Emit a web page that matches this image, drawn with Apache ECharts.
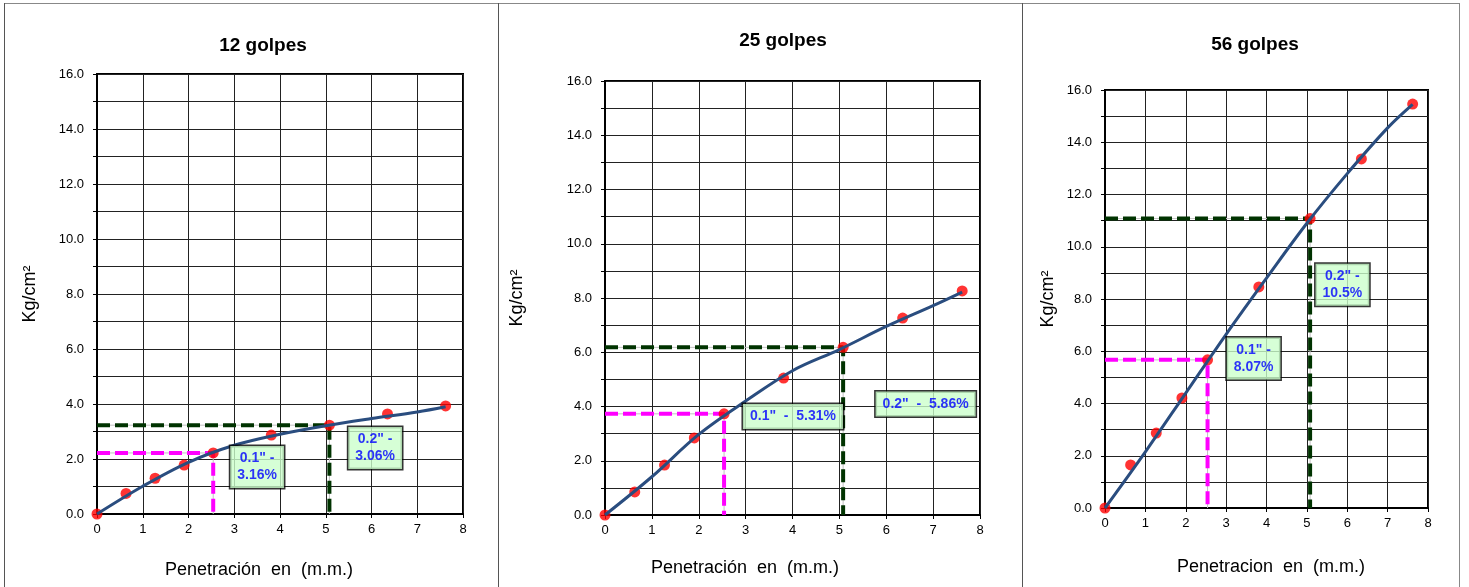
<!DOCTYPE html>
<html><head><meta charset="utf-8">
<script src="https://cdn.jsdelivr.net/npm/echarts@6/dist/echarts.min.js"></script>
<style>html,body{margin:0;padding:0;background:#fff}#c{width:1469px;height:587px}</style>
</head><body><div id="c"></div>
<script>
// ---- data ----
const titles = ['12 golpes', '25 golpes', '56 golpes'];
const xAxisNames = ['Penetración  en  (m.m.)', 'Penetración  en  (m.m.)', 'Penetracion  en  (m.m.)'];
const yAxisName = 'Kg/cm²';
const penetration = [0, 0.635, 1.27, 1.905, 2.54, 3.81, 5.08, 6.35, 7.62];
const load12 = [0, 0.75, 1.30, 1.78, 2.22, 2.87, 3.23, 3.64, 3.93];
const load25 = [0, 0.85, 1.84, 2.84, 3.73, 5.05, 6.18, 7.26, 8.26];
const load56 = [0, 1.65, 2.87, 4.21, 5.67, 8.46, 11.08, 13.36, 15.46];
const trendX = [0, 1, 2, 3, 4, 5, 6, 7, 7.62];
const trend12 = [0, 1.01, 1.88, 2.50, 2.90, 3.21, 3.47, 3.71, 3.90];
const trend25 = [0, 1.41, 2.97, 4.20, 5.32, 6.10, 6.95, 7.72, 8.22];
const trend56 = [0, 2.15, 4.40, 6.65, 8.80, 10.90, 12.80, 14.55, 15.45];
const label01 = ['0.1" -\n3.16%', '0.1"  -  5.31%', '0.1" -\n8.07%'];
const label02 = ['0.2" -\n3.06%', '0.2"  -  5.86%', '0.2" -\n10.5%'];
const yTicks = [0, 2, 4, 6, 8, 10, 12, 14, 16];

const loads = [load12, load25, load56];
const trends = [trend12, trend25, trend56];

// ---- layout ----
const layout = [
  {left: 97, top: 74, width: 366, height: 440, tx: 258, ty: 31, yGap: 58, xGap: 47, xPad: [0, 42, 0, 0], lab1: [3.5, 1.71], lab2: [6.08, 2.4]},
  {left: 605, top: 81, width: 375, height: 434, tx: 778, ty: 26, yGap: 79, xGap: 44, xPad: [0, 95, 0, 0], lab1: [4.01, 3.63], lab2: [6.84, 4.09]},
  {left: 1105, top: 90, width: 323, height: 418, tx: 1250, ty: 30, yGap: 48, xGap: 50, xPad: [0, 0, 0, 9], lab1: [3.68, 5.72], lab2: [5.88, 8.55]}
];

const FONT = '"Liberation Sans", Arial, sans-serif';
const grids = [], xAxes = [], yAxes = [], series = [], titleArr = [];

layout.forEach((L, i) => {
  grids.push({left: L.left, top: L.top, width: L.width, height: L.height, show: true,
    borderColor: '#000', borderWidth: 2, backgroundColor: '#fff'});
  titleArr.push({text: titles[i], left: L.tx, top: L.ty, textAlign: 'center',
    textStyle: {fontFamily: FONT, fontSize: 19, fontWeight: 'bold', color: '#000'}});
  xAxes.push({type: 'value', gridIndex: i, min: 0, max: 8, interval: 1,
    name: xAxisNames[i], nameLocation: 'middle', nameGap: L.xGap,
    nameTextStyle: {fontFamily: FONT, fontSize: 18, color: '#000', padding: L.xPad},
    axisLine: {show: true, onZero: false, lineStyle: {color: '#000', width: 2}},
    axisTick: {show: true, length: 4, lineStyle: {color: '#000'}},
    axisLabel: {fontFamily: FONT, fontSize: 13, color: '#000', margin: 9},
    splitLine: {show: true, lineStyle: {color: '#222', width: 1}}});
  yAxes.push({type: 'value', gridIndex: i, min: 0, max: 16, interval: 1,
    name: yAxisName, nameLocation: 'middle', nameGap: L.yGap, nameRotate: 90,
    nameTextStyle: {fontFamily: FONT, fontSize: 18, color: '#000'},
    axisLine: {show: true, onZero: false, lineStyle: {color: '#000', width: 2}},
    axisTick: {show: true, length: 4, lineStyle: {color: '#000'}},
    axisLabel: {fontFamily: FONT, fontSize: 13, color: '#000', margin: 13,
      formatter: v => yTicks.indexOf(v) >= 0 ? v.toFixed(1) : ''},
    splitLine: {show: true, lineStyle: {color: '#222', width: 1}}});

  const ld = loads[i];
  const x1 = penetration[4], v1 = ld[4];
  const x2 = penetration[6], v2 = ld[6];
  const ref1 = [[0, v1], [x1, v1], [x1, 0]];
  const ref2 = [[0, v2], [x2, v2], [x2, 0]];
  const base = {xAxisIndex: i, yAxisIndex: i, silent: true, animation: false};

  series.push(Object.assign({type: 'line', data: ref1, symbol: 'none', z: 3,
    lineStyle: {color: '#C0C0C0', width: 1}}, base));
  series.push(Object.assign({type: 'line', data: ref2, symbol: 'none', z: 3,
    lineStyle: {color: '#C0C0C0', width: 1}}, base));
  series.push(Object.assign({type: 'line', data: ref1, symbol: 'none', z: 4,
    lineStyle: {color: '#FF00FF', width: 4, type: [13, 5]}}, base));
  series.push(Object.assign({type: 'line', data: ref2, symbol: 'none', z: 4,
    lineStyle: {color: '#003300', width: 4, type: [13, 5]}}, base));
  series.push(Object.assign({type: 'scatter', z: 5, symbolSize: 11,
    itemStyle: {color: '#FF0000'},
    data: penetration.map((x, k) => [x, ld[k]])}, base));
  series.push(Object.assign({type: 'line', z: 6, smooth: 0.35, symbol: 'none',
    lineStyle: {color: '#2A4D7F', width: 3},
    data: trendX.map((x, k) => [x, trends[i][k]])}, base));
  const boxLabel = txt => ({show: true, position: 'inside', formatter: txt,
    fontFamily: FONT, fontSize: 14, fontWeight: 'bold', color: '#0000FF', lineHeight: 17,
    backgroundColor: '#CCFFCC', borderColor: '#000', borderWidth: 1.5, padding: [4, 7],
    align: 'center', verticalAlign: 'middle'});
  series.push(Object.assign({type: 'scatter', z: 8, symbolSize: 1,
    itemStyle: {color: 'rgba(0,0,0,0)'},
    data: [{value: L.lab1, label: boxLabel(label01[i])}, {value: L.lab2, label: boxLabel(label02[i])}]}, base));
});

const chart = echarts.init(document.getElementById('c'), null, {renderer: 'canvas'});
chart.setOption({
  animation: false,
  backgroundColor: '#fff',
  title: titleArr,
  grid: grids,
  xAxis: xAxes,
  yAxis: yAxes,
  series: series,
  graphic: [
    {type: 'line', shape: {x1: 4, y1: 3.5, x2: 1460, y2: 3.5}, style: {stroke: '#888', lineWidth: 1}},
    {type: 'line', shape: {x1: 4.5, y1: 3, x2: 4.5, y2: 587}, style: {stroke: '#555', lineWidth: 1}},
    {type: 'line', shape: {x1: 498.5, y1: 3, x2: 498.5, y2: 587}, style: {stroke: '#555', lineWidth: 1}},
    {type: 'line', shape: {x1: 1022.5, y1: 3, x2: 1022.5, y2: 587}, style: {stroke: '#555', lineWidth: 1}},
    {type: 'line', shape: {x1: 1459.5, y1: 3, x2: 1459.5, y2: 587}, style: {stroke: '#888', lineWidth: 1}}
  ]
});
</script></body></html>
